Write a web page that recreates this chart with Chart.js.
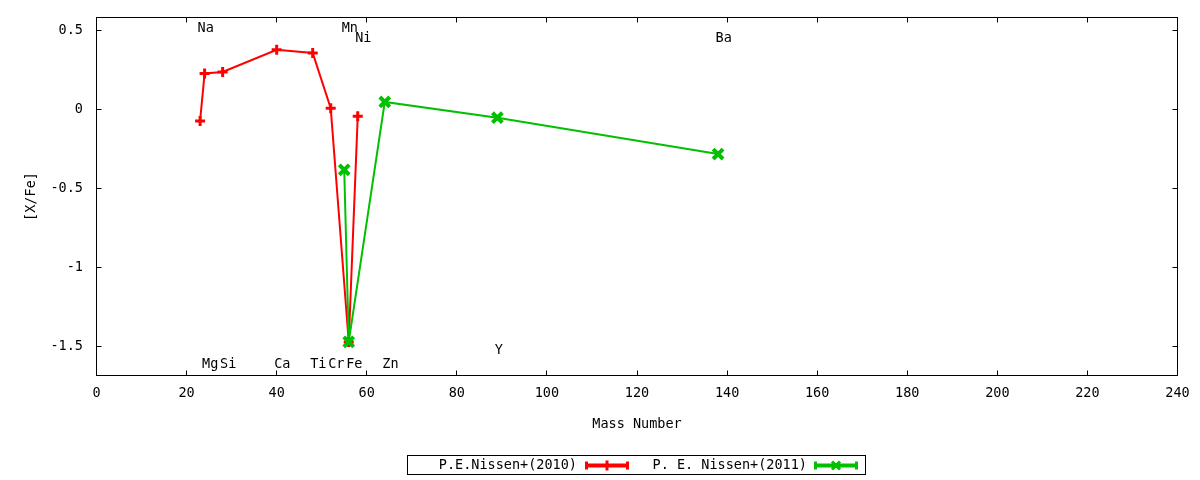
<!DOCTYPE html>
<html>
<head>
<meta charset="utf-8">
<script src="https://cdn.jsdelivr.net/npm/chart.js@4.4.0/dist/chart.umd.min.js"></script>
<style>
  html, body { margin: 0; padding: 0; background: #fff; }
  #wrap { width: 1200px; height: 480px; }
</style>
</head>
<body>
<div id="wrap"><canvas id="chart" width="1200" height="480"></canvas></div>
<script>
// data
const nissen2010Mass = [23, 24, 28, 40, 48, 52, 56, 58];
const nissen2010Values = [-0.07, 0.23, 0.24, 0.38, 0.36, 0.01, -1.47, -0.04];
const nissen2011Mass = [55, 56, 64, 89, 138];
const nissen2011Values = [-0.38, -1.47, 0.05, -0.05, -0.28];

// element names written on the plot (mass number, [X/Fe] level)
const elementNames = ["Na", "Mg", "Si", "Ca", "Ti", "Cr", "Mn", "Fe", "Ni", "Zn", "Y", "Ba"];
const elementMass = [23, 24, 28, 40, 48, 52, 55, 56, 58, 64, 89, 138];
const elementLevel = [0.515, -1.615, -1.615, -1.615, -1.615, -1.615, 0.515, -1.615, 0.455, -1.615, -1.525, 0.455];

const xTicks = [0, 20, 40, 60, 80, 100, 120, 140, 160, 180, 200, 220, 240];
const yTicks = [-1.5, -1, -0.5, 0, 0.5];
const seriesNames = ["P.E.Nissen+(2010)", "P. E. Nissen+(2011)"];

const FONT = "'DejaVu Sans Mono', monospace";
Chart.defaults.font.family = FONT;
Chart.defaults.font.size = 13.5;
Chart.defaults.color = "#000";

function toPoints(xs, ys) {
  return xs.map((m, i) => ({ x: m, y: ys[i] }));
}

// box + inward ticks on all four sides, gnuplot style
const framePlugin = {
  id: "frame",
  beforeDatasetsDraw(chart) {
    const { ctx, chartArea: a, scales } = chart;
    ctx.save();
    ctx.strokeStyle = "#000";
    ctx.lineWidth = 1;
    ctx.strokeRect(a.left, a.top, a.right - a.left, a.bottom - a.top);
    ctx.beginPath();
    xTicks.forEach((v) => {
      const px = Math.floor(scales.x.getPixelForValue(v)) + 0.5;
      ctx.moveTo(px, a.bottom); ctx.lineTo(px, a.bottom - 5);
      ctx.moveTo(px, a.top); ctx.lineTo(px, a.top + 5);
    });
    yTicks.forEach((v) => {
      const py = Math.floor(scales.y.getPixelForValue(v)) + 0.5;
      ctx.moveTo(a.left, py); ctx.lineTo(a.left + 5, py);
      ctx.moveTo(a.right, py); ctx.lineTo(a.right - 5, py);
    });
    ctx.stroke();
    ctx.restore();
  },
};

const elementLabels = {
  id: "elementLabels",
  afterDatasetsDraw(chart) {
    const { ctx, scales } = chart;
    ctx.save();
    ctx.font = "13.5px " + FONT;
    ctx.fillStyle = "#000";
    ctx.textAlign = "left";
    ctx.textBaseline = "middle";
    elementNames.forEach((name, i) => {
      const px = scales.x.getPixelForValue(elementMass[i]) - 2.5;
      const py = scales.y.getPixelForValue(elementLevel[i]);
      ctx.fillText(name, px, py);
    });
    ctx.restore();
  },
};

function plusMark(ctx, x, y, r) {
  ctx.beginPath();
  ctx.moveTo(x - r, y); ctx.lineTo(x + r, y);
  ctx.moveTo(x, y - r); ctx.lineTo(x, y + r);
  ctx.stroke();
}
function crossMark(ctx, x, y, r) {
  ctx.beginPath();
  ctx.moveTo(x - r, y - r); ctx.lineTo(x + r, y + r);
  ctx.moveTo(x - r, y + r); ctx.lineTo(x + r, y - r);
  ctx.stroke();
}

const keyBox = {
  id: "keyBox",
  afterDraw(chart) {
    const ctx = chart.ctx;
    const colors = chart.data.datasets.map((d) => d.borderColor);
    ctx.save();
    ctx.strokeStyle = "#000";
    ctx.lineWidth = 1;
    ctx.strokeRect(407.5, 455.5, 458, 19);
    ctx.font = "13.5px " + FONT;
    ctx.fillStyle = "#000";
    ctx.textAlign = "right";
    ctx.textBaseline = "middle";
    const cy = 465.5;
    const items = [
      { textRight: 577, x0: 585, x1: 629, mark: plusMark, r: 5 },
      { textRight: 807, x0: 814, x1: 858, mark: crossMark, r: 4 },
    ];
    items.forEach((it, i) => {
      ctx.fillText(seriesNames[i], it.textRight, cy);
      ctx.strokeStyle = colors[i];
      ctx.lineWidth = 4;
      ctx.beginPath();
      ctx.moveTo(it.x0, cy); ctx.lineTo(it.x1, cy);
      ctx.stroke();
      ctx.lineWidth = 3;
      ctx.beginPath();
      ctx.moveTo(it.x0 + 1.5, cy - 4); ctx.lineTo(it.x0 + 1.5, cy + 4);
      ctx.moveTo(it.x1 - 1.5, cy - 4); ctx.lineTo(it.x1 - 1.5, cy + 4);
      ctx.stroke();
      it.mark(ctx, (it.x0 + it.x1) / 2, cy, it.r);
    });
    ctx.restore();
  },
};

new Chart(document.getElementById("chart"), {
  type: "scatter",
  data: {
    datasets: [
      {
        label: seriesNames[0],
        data: toPoints(nissen2010Mass, nissen2010Values),
        showLine: true,
        tension: 0,
        borderColor: "#ff0000",
        backgroundColor: "#ff0000",
        borderWidth: 2,
        pointStyle: "cross",
        pointRadius: 5,
        pointBorderWidth: 3,
        order: 1,
      },
      {
        label: seriesNames[1],
        data: toPoints(nissen2011Mass, nissen2011Values),
        showLine: true,
        tension: 0,
        borderColor: "#00c000",
        backgroundColor: "#00c000",
        borderWidth: 2,
        pointStyle: "crossRot",
        pointRadius: 7,
        pointBorderWidth: 4,
        order: 0,
      },
    ],
  },
  options: {
    responsive: false,
    animation: false,
    devicePixelRatio: 1,
    layout: { padding: { left: 0, top: 17.5, right: 22.5, bottom: 43.5 } },
    plugins: { legend: { display: false }, tooltip: { enabled: false } },
    scales: {
      x: {
        type: "linear",
        min: 0,
        max: 240,
        afterBuildTicks: (s) => { s.ticks = xTicks.map((v) => ({ value: v })); },
        afterFit: (s) => { s.height = 61; },
        grid: { display: false, drawTicks: false },
        border: { display: false },
        ticks: { padding: 10, maxRotation: 0, autoSkip: false, callback: (v) => String(v) },
        title: { display: true, text: "Mass Number", padding: { top: 0, bottom: 4 } },
      },
      y: {
        type: "linear",
        min: -1.683,
        max: 0.585,
        afterBuildTicks: (s) => { s.ticks = yTicks.map((v) => ({ value: v })); },
        afterFit: (s) => { s.width = 96.5; },
        // tick marks are drawn by the frame plugin; tickLength only pushes labels left
        grid: { display: false, drawTicks: true, tickLength: 10.5 },
        border: { display: false },
        ticks: { padding: 3, autoSkip: false, callback: (v) => String(v) },
        title: { display: true, text: "[X/Fe]", padding: { top: 23, bottom: 0 } },
      },
    },
  },
  plugins: [framePlugin, elementLabels, keyBox],
});
</script>
</body>
</html>
